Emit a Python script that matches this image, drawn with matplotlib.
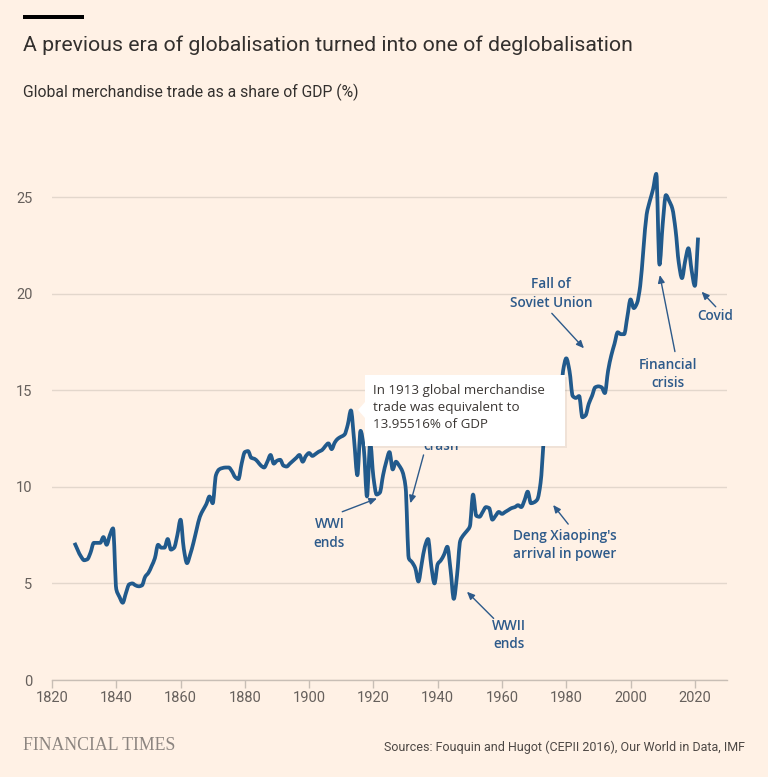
import matplotlib
matplotlib.use("Agg")
import matplotlib.pyplot as plt
import numpy as np
from matplotlib.patches import Rectangle, Polygon, PathPatch
from matplotlib.path import Path

years = [1827, 1829, 1830, 1831, 1832, 1833, 1834, 1835, 1836, 1837, 1838, 1839,
         1840, 1841, 1842, 1843, 1844, 1845, 1846, 1847, 1848, 1849, 1850, 1851,
         1852, 1853, 1854, 1855, 1856, 1857, 1858, 1859, 1860, 1861, 1862, 1863,
         1864, 1865, 1866, 1867, 1868, 1869, 1870, 1871, 1872, 1873, 1874, 1875,
         1876, 1877, 1878, 1879, 1880, 1881, 1882, 1883, 1884, 1885, 1886, 1887,
         1888, 1889, 1890, 1891, 1892, 1893, 1894, 1895, 1896, 1897, 1898, 1899,
         1900, 1901, 1902, 1903, 1904, 1905, 1906, 1907, 1908, 1909, 1910, 1911,
         1912, 1913, 1914, 1915, 1916, 1917, 1918, 1919, 1920, 1921, 1922, 1923,
         1924, 1925, 1926, 1927, 1928, 1929, 1930, 1931, 1932, 1933, 1934, 1935,
         1936, 1937, 1938, 1939, 1940, 1941, 1942, 1943, 1944, 1945, 1946, 1947,
         1948, 1949, 1950, 1951, 1952, 1953, 1954, 1955, 1956, 1957, 1958, 1959,
         1960, 1961, 1962, 1963, 1964, 1965, 1966, 1967, 1968, 1969, 1970, 1971,
         1972, 1973, 1974, 1975, 1976, 1977, 1978, 1979, 1980, 1981, 1982, 1983,
         1984, 1985, 1986, 1987, 1988, 1989, 1990, 1991, 1992, 1993, 1994, 1995,
         1996, 1997, 1998, 1999, 2000, 2001, 2002, 2003, 2004, 2005, 2006, 2007,
         2008, 2009, 2010, 2011, 2012, 2013, 2014, 2015, 2016, 2017, 2018, 2019,
         2020, 2021]
trade_share = [7.1, 6.4, 6.2, 6.25, 6.6, 7.1, 7.1, 7.1, 7.4, 7.0, 7.5, 7.85,
               4.7, 4.3, 4.0, 4.5, 4.95, 5.0, 4.9, 4.85, 4.9, 5.35, 5.55, 5.9,
               6.3, 7.0, 6.85, 6.85, 7.3, 6.75, 6.85, 7.5, 8.3, 6.8, 6.05, 6.5,
               7.1, 7.8, 8.45, 8.8, 9.1, 9.5, 9.15, 10.6, 10.9, 10.97, 11.0, 11.0,
               10.8, 10.5, 10.4, 11.2, 11.8, 11.85, 11.5, 11.45, 11.3, 11.1, 11.0, 11.3,
               11.65, 11.2, 11.35, 11.4, 11.1, 11.05, 11.2, 11.35, 11.5, 11.65, 11.3, 11.6,
               11.75, 11.6, 11.7, 11.82, 11.9, 12.1, 12.25, 11.95, 12.3, 12.5, 12.6, 12.7,
               13.2, 13.95516, 12.4, 10.6, 12.9, 12.0, 9.5, 12.3, 10.5, 9.6, 9.7, 10.6,
               11.3, 11.8, 10.9, 11.3, 11.1, 10.8, 10.0, 6.3, 6.1, 5.8, 5.1, 6.0,
               6.9, 7.3, 5.9, 5.0, 6.0, 6.2, 6.5, 6.9, 5.7, 4.2, 5.4, 7.2,
               7.5, 7.7, 7.95, 9.6, 8.5, 8.45, 8.7, 8.95, 8.9, 8.3, 8.5, 8.7,
               8.6, 8.7, 8.8, 8.9, 8.95, 9.05, 8.95, 9.3, 9.75, 9.15, 9.2, 9.35,
               10.2, 12.5, 15.0, 14.0, 14.5, 14.4, 14.2, 16.0, 16.65, 16.0, 14.7, 14.6,
               14.7, 13.6, 13.7, 14.3, 14.7, 15.15, 15.2, 15.15, 14.85, 16.0, 16.8, 17.4,
               18.0, 17.9, 17.9, 18.8, 19.7, 19.25, 19.5, 20.4, 22.3, 24.1, 24.8, 25.4,
               26.2, 21.5, 23.6, 25.1, 24.8, 24.4, 23.3, 21.6, 20.8, 21.7, 22.35, 21.2,
               20.4, 22.9]

x_ticks = [1820, 1840, 1860, 1880, 1900, 1920, 1940, 1960, 1980, 2000, 2020]
y_ticks = [0, 5, 10, 15, 20, 25]

annotations = [
    ("WWI\nends", (1906.3, 7.6), (1910.3, 8.71), (1921.1, 9.40)),
    ("Wall Street\ncrash", (1941.1, 12.6), (1935.6, 11.65), (1931.5, 9.15)),
    ("WWII\nends", (1962.2, 2.33), (1957.4, 3.19), (1949.1, 4.57)),
    ("Deng Xiaoping's\narrival in power", (1979.6, 6.99), (1980.6, 8.07), (1975.9, 9.06)),
    ("Fall of\nSoviet Union", (1975.3, 20.03), (1975.5, 18.98), (1985.5, 17.17)),
    ("Financial\ncrisis", (2011.6, 15.84), (2013.8, 17.0), (2009.1, 20.96)),
    ("Covid", (2026.2, 18.84), (2026.5, 19.32), (2022.1, 20.1)),
]

tooltip_text = "In 1913 global merchandise\ntrade was equivalent to\n13.95516% of GDP"

BG = "#FFF1E5"
LINE = "#215a8c"
ANN = "#2d5a8a"
GRID = "#e3d7cc"
TICK = "#66605c"

plt.rcParams['font.family'] = ['Roboto', 'DejaVu Sans']


def monotone_path(x, y):
    """Monotone cubic (Fritsch-Carlson) curve through the data points as a Bezier path."""
    x = np.asarray(x, float)
    y = np.asarray(y, float)
    n = len(x)
    h = np.diff(x)
    d = np.diff(y) / h
    m = np.zeros(n)
    m[0], m[-1] = d[0], d[-1]
    for i in range(1, n - 1):
        if d[i - 1] * d[i] <= 0:
            m[i] = 0.0
        else:
            w1 = 2 * h[i] + h[i - 1]
            w2 = h[i] + 2 * h[i - 1]
            m[i] = (w1 + w2) / (w1 / d[i - 1] + w2 / d[i])
    verts = [(x[0], y[0])]
    codes = [Path.MOVETO]
    for i in range(n - 1):
        dx = h[i] / 3.0
        verts += [(x[i] + dx, y[i] + m[i] * dx),
                  (x[i + 1] - dx, y[i + 1] - m[i + 1] * dx),
                  (x[i + 1], y[i + 1])]
        codes += [Path.CURVE4] * 3
    return Path(verts, codes)


fig = plt.figure(figsize=(7.68, 7.77), dpi=100, facecolor=BG)
ax = fig.add_axes([0.0677, 0.1248, 0.8789, 0.7211])
ax.set_facecolor(BG)

ax.add_patch(PathPatch(monotone_path(years, trade_share), facecolor='none',
                       edgecolor=LINE, lw=2.7, joinstyle='round', capstyle='butt',
                       zorder=3))

ax.set_xlim(1820, 2030)
ax.set_ylim(0, 29)
ax.set_xticks(x_ticks)
ax.set_yticks(y_ticks)
ax.set_xticklabels([str(t) for t in x_ticks])
ax.set_yticklabels([str(t) for t in y_ticks])
for s in ['top', 'right', 'left']:
    ax.spines[s].set_visible(False)
ax.spines['bottom'].set_color("#c8beb5")
ax.spines['bottom'].set_linewidth(1.0)
ax.tick_params(axis='x', length=6, width=1, color="#c8beb5", labelcolor=TICK,
               labelsize=10.5, pad=2)
ax.tick_params(axis='y', length=0, labelcolor=TICK, labelsize=10.5, pad=14)
ax.grid(axis='y', color=GRID, lw=1.0, zorder=0)
ax.set_axisbelow(True)

for label, txy, tail, head in annotations:
    ax.text(txy[0], txy[1], label, color=ANN, fontsize=9.8, fontweight='semibold',
            family=['Open Sans', 'DejaVu Sans'],
            ha='center', va='center', linespacing=1.45, zorder=4)
    ax.annotate("", xy=head, xytext=tail,
                arrowprops=dict(arrowstyle="-|>,head_length=0.45,head_width=0.2",
                                color=ANN, lw=1.0, shrinkA=0, shrinkB=0),
                zorder=4)

# tooltip
W, H = 768.0, 777.0
bx0, bx1, by_top, by_bot = 365, 565, 375, 446
shadow = Rectangle(((bx0 + 1) / W, 1 - (by_bot + 2) / H), (bx1 - bx0 + 1) / W,
                   (by_bot - by_top) / H, transform=fig.transFigure,
                   facecolor="#000000", alpha=0.06, edgecolor='none', zorder=9)
fig.add_artist(shadow)
box = Rectangle((bx0 / W, 1 - by_bot / H), (bx1 - bx0) / W, (by_bot - by_top) / H,
                transform=fig.transFigure, facecolor="white", edgecolor='none',
                zorder=10)
fig.add_artist(box)
tri = Polygon([(bx0 / W, 1 - 402 / H), ((bx0 - 7) / W, 1 - 410 / H), (bx0 / W, 1 - 418 / H)],
              closed=True, transform=fig.transFigure, facecolor="white",
              edgecolor='none', zorder=10)
fig.add_artist(tri)
fig.text(373 / W, 1 - 384 / H, tooltip_text, fontsize=9.6, color="#3a3633",
         family=['Open Sans', 'DejaVu Sans'], ha='left', va='top',
         linespacing=1.38, zorder=11)

# header
fig.add_artist(Rectangle((23 / W, 1 - 19 / H), 61 / W, 4.5 / H,
                         transform=fig.transFigure, facecolor="#000000",
                         edgecolor='none'))
fig.text(23 / W, 1 - 45 / H, "A previous era of globalisation turned into one of deglobalisation",
         fontsize=15.3, color="#33302e", ha='left', va='center')
fig.text(23 / W, 1 - 92 / H, "Global merchandise trade as a share of GDP (%)",
         fontsize=11.3, color="#33302e", ha='left', va='center')

# footer
fig.text(23 / W, 1 - 746 / H, "FINANCIAL TIMES", fontsize=12.8, color="#8c8580",
         family=['Liberation Serif', 'DejaVu Serif'], ha='left', va='center')
fig.text(745 / W, 1 - 747 / H, "Sources: Fouquin and Hugot (CEPII 2016), Our World in Data, IMF",
         fontsize=9, color="#4d4845", ha='right', va='center')

fig.savefig("out.png", dpi=100, facecolor=BG)
